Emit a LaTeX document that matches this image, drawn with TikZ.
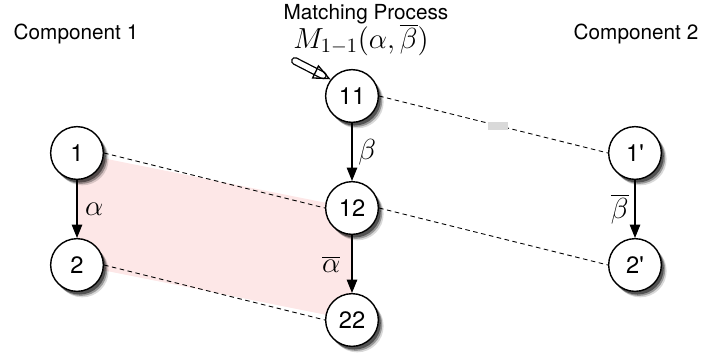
\documentclass[tikz,border=0pt]{standalone}
\usepackage{fix-cm}
\usepackage[no-math]{fontspec}
\setmainfont{TeX Gyre Heros}
\usetikzlibrary{arrows.meta,shapes.geometric,shadows,backgrounds}
\definecolor{shadepink}{RGB}{253,231,231}

\begin{document}
\begin{tikzpicture}[x=0.02cm, y=-0.02cm,
    vertex/.style = {circle, draw, line width=0.8pt, fill=white, minimum size=30pt, inner sep=0pt,
      font=\fontsize{13.5}{14}\selectfont,
      drop shadow={shadow xshift=3pt, shadow yshift=-3.4pt, opacity=0.15, fill=black},
      drop shadow={shadow xshift=2.2pt, shadow yshift=-2.6pt, opacity=0.3, fill=black},
      drop shadow={shadow xshift=1.4pt, shadow yshift=-1.8pt, opacity=0.45, fill=black}},
    flow/.style = {-{Triangle[length=7.6pt,width=6pt]}, line width=0.6pt},
    link/.style = {dash pattern=on 2.6pt off 2pt, line width=0.5pt},
    lbl/.style = {font=\fontsize{16.5}{17}\selectfont},
    heading/.style = {font=\fontsize{11.8}{13}\selectfont},
    stub/.style = {fill=gray!30, minimum width=11pt, minimum height=4.5pt, inner sep=0pt}]
    \useasboundingbox (0,0) rectangle (702,356);
    % Draw the headings
    \node[heading] (comp1) at (76,34) {Component 1};
    \node[heading] (comp2) at (636,34) {Component 2};
    \node[heading] (proc) at (366,14) {Matching Process};
    \node[lbl] (mfun) at (361,40) {$M_{1-1}(\alpha,\overline{\beta})$};
    % Draw the states
    \node[vertex] (n1) at (77,153) {1};
    \node[vertex] (n2) at (77,265) {2};
    \node[vertex] (n11) at (352,96) {11};
    \node[vertex] (n12) at (352,208) {12};
    \node[vertex] (n22) at (352,320) {22};
    \node[vertex] (m1) at (635,153) {1\textquotesingle};
    \node[vertex] (m2) at (635,265) {2\textquotesingle};
    % Shade the matched pair
    \begin{scope}[on background layer]
      \fill[shadepink] (n1.center) -- (n12.center) -- (n22.center) -- (n2.center) -- cycle;
    \end{scope}
    % Draw the transitions
    \draw[flow] (n1) -- node[lbl, right, xshift=1pt] {$\alpha$} (n2);
    \draw[flow] (n11) -- node[lbl, right] {$\beta$} (n12);
    \draw[flow] (n12) -- node[lbl, left, xshift=-3pt] {$\overline{\alpha}$} (n22);
    \draw[flow] (m1) -- node[lbl, left] {$\overline{\beta}$} (m2);
    % Draw the matching links
    \draw[link] (n1.east) -- (n12.west);
    \draw[link] (n2.east) -- (n22.west);
    \draw[link] (n12.east) -- (m2.west);
    \draw[link] (n11.east) -- node[pos=0.52, stub] (gap) {} (m1.west);
    % Draw the pointer
    \coordinate (ptail) at (295,61);
    \coordinate (ptip) at (n11.142);
    \draw[line width=0.75pt, double=white, double distance=3pt, line cap=round, shorten >=5pt] (ptail) -- (ptip);
    \node[isosceles triangle, isosceles triangle stretches, draw, line width=0.75pt, minimum width=7.6pt,
      minimum height=8.6pt, inner sep=0pt, rotate=-26, anchor=apex] (phead) at (ptip) {};
  \end{tikzpicture}
\end{document}
